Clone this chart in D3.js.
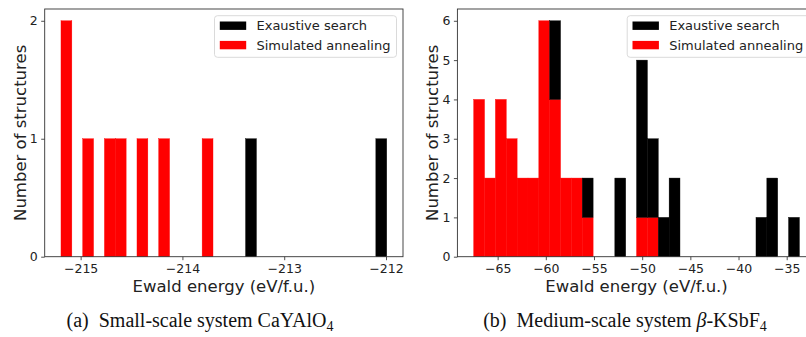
<!DOCTYPE html>
<html>
<head>
<meta charset="utf-8">
<script src="https://cdn.jsdelivr.net/npm/d3@7"></script>
<style>
  body { margin: 0; background: #fff; overflow: hidden; }
  svg { display: block; }
  .tick text { font-family: "DejaVu Sans", sans-serif; font-size: 12.5px; fill: #222; }
  .axis-title { font-family: "DejaVu Sans", sans-serif; font-size: 16.5px; fill: #222; }
  .legend text { font-family: "DejaVu Sans", sans-serif; font-size: 13px; fill: #222; }
  .caption { font-family: "Liberation Serif", "Times New Roman", serif; font-size: 20px; fill: #111; }
</style>
</head>
<body>
<div id="chart"></div>
<script>
// legend entries
const seriesLabels = ['Exaustive search', 'Simulated annealing'];
const seriesColors = ['#000000', '#ff0000'];

// (a) CaYAlO4: 30 bins between the lowest and highest energy
const smallBinRange = [-215.193, -211.993];
const smallAnnealing  = [2,0,1,0,1,1,0,1,0,1, 0,0,0,1,0,0,0,0,0,0, 0,0,0,0,0,0,0,0,0,0];
const smallExhaustive = [0,0,0,0,0,0,0,0,0,0, 0,0,0,0,0,0,0,1,0,0, 0,0,0,0,0,0,0,0,0,1];
const smallXTicks = [-215, -214, -213, -212];
const smallYTicks = [0, 1, 2];

// (b) beta-KSbF4
const mediumBinRange = [-67.487, -33.68];
const mediumAnnealing  = [4,2,4,3,2,2,6,4,2,2, 1,0,0,0,0,1,1,0,0,0, 0,0,0,0,0,0,0,0,0,0];
const mediumExhaustive = [0,0,0,0,0,0,0,2,0,0, 1,0,0,2,0,4,2,1,2,0, 0,0,0,0,0,0,1,2,0,1];
const mediumXTicks = [-65, -60, -55, -50, -45, -40, -35];
const mediumYTicks = [0, 1, 2, 3, 4, 5, 6];

class StackedHist {
    constructor(_config, _data) {
        this.config = {
            parent: _config.parent,
            left: _config.left,
            width: _config.width || 358.3,
            top: 9,
            height: 247.7,
            yMax: _config.yMax,
            xTicks: _config.xTicks,
            yTicks: _config.yTicks
        }
        this.data = _data;
        this.initVis();
    }

    initVis() {
        let vis = this;
        const c = vis.config;

        vis.chart = c.parent.append('g')
            .attr('transform', `translate(${c.left},${c.top})`);

        // matplotlib-style 5% padding around the bin range
        const [lo, hi] = vis.data.range;
        const pad = (hi - lo) * 0.05;
        vis.xScale = d3.scaleLinear().domain([lo - pad, hi + pad]).range([0, c.width]);
        vis.yScale = d3.scaleLinear().domain([0, c.yMax]).range([c.height, 0]);

        const n = vis.data.annealing.length;
        const step = (hi - lo) / n;
        vis.bins = d3.range(n).map(i => ({
            x0: lo + i * step,
            x1: lo + (i + 1) * step,
            sa: vis.data.annealing[i],
            es: vis.data.exhaustive[i]
        }));

        vis.renderVis();
    }

    renderVis() {
        let vis = this;
        const c = vis.config;

        // red at the bottom, black stacked on top
        // (a thin stroke in the fill colour hides seams between neighbouring bins)
        vis.chart.selectAll('.bar-sa')
            .data(vis.bins.filter(d => d.sa > 0))
            .join('rect')
            .attr('class', 'bar-sa')
            .attr('x', d => vis.xScale(d.x0))
            .attr('width', d => vis.xScale(d.x1) - vis.xScale(d.x0))
            .attr('y', d => vis.yScale(d.sa))
            .attr('height', d => vis.yScale(0) - vis.yScale(d.sa))
            .attr('fill', seriesColors[1])
            .attr('stroke', seriesColors[1])
            .attr('stroke-width', 0.4);

        vis.chart.selectAll('.bar-es')
            .data(vis.bins.filter(d => d.es > 0))
            .join('rect')
            .attr('class', 'bar-es')
            .attr('x', d => vis.xScale(d.x0))
            .attr('width', d => vis.xScale(d.x1) - vis.xScale(d.x0))
            .attr('y', d => vis.yScale(d.sa + d.es))
            .attr('height', d => vis.yScale(d.sa) - vis.yScale(d.sa + d.es))
            .attr('fill', seriesColors[0])
            .attr('stroke', seriesColors[0])
            .attr('stroke-width', 0.4);

        // axes
        const xAxis = d3.axisBottom(vis.xScale).tickValues(c.xTicks).tickFormat(d3.format('d'))
            .tickSize(3.5).tickPadding(3.5).tickSizeOuter(0);
        const yAxis = d3.axisLeft(vis.yScale).tickValues(c.yTicks).tickFormat(d3.format('d'))
            .tickSize(3.5).tickPadding(3.5).tickSizeOuter(0);

        const xg = vis.chart.append('g').attr('transform', `translate(0,${c.height})`).call(xAxis);
        const yg = vis.chart.append('g').call(yAxis);
        [xg, yg].forEach(g => {
            g.select('.domain').remove();
            g.selectAll('.tick line').attr('stroke', '#222').attr('stroke-width', 0.8);
        });

        // frame
        vis.chart.append('rect')
            .attr('width', c.width)
            .attr('height', c.height)
            .attr('fill', 'none')
            .attr('stroke', '#333')
            .attr('stroke-width', 0.9);

        // axis titles
        vis.chart.append('text')
            .attr('class', 'axis-title')
            .attr('x', c.width / 2)
            .attr('y', c.height + 35.5)
            .attr('text-anchor', 'middle')
            .text('Ewald energy (eV/f.u.)');

        vis.chart.append('text')
            .attr('class', 'axis-title')
            .attr('transform', `translate(-19,${c.height / 2}) rotate(-90)`)
            .attr('text-anchor', 'middle')
            .text('Number of structures');

        // legend
        const lg = vis.chart.append('g')
            .attr('class', 'legend')
            .attr('transform', `translate(${c.width - 188.5},6.7)`);
        lg.append('rect')
            .attr('width', 182)
            .attr('height', 41.6)
            .attr('rx', 3)
            .attr('fill', 'rgba(255,255,255,0.85)')
            .attr('stroke', '#d6d6d6')
            .attr('stroke-width', 0.9);
        seriesLabels.forEach((label, i) => {
            const cy = 10 + i * 19.4;
            lg.append('rect')
                .attr('x', 5.3).attr('y', cy - 4.2)
                .attr('width', 26.4).attr('height', 8.4)
                .attr('fill', seriesColors[i]);
            lg.append('text')
                .attr('x', 42).attr('y', cy + 4.6)
                .text(label);
        });
    }
}

const svg = d3.select('#chart').append('svg')
    .attr('width', 806)
    .attr('height', 337);

new StackedHist({ parent: svg, left: 44.7, yMax: 2.1, xTicks: smallXTicks, yTicks: smallYTicks },
    { range: smallBinRange, annealing: smallAnnealing, exhaustive: smallExhaustive });

new StackedHist({ parent: svg, left: 457.4, yMax: 6.3, xTicks: mediumXTicks, yTicks: mediumYTicks },
    { range: mediumBinRange, annealing: mediumAnnealing, exhaustive: mediumExhaustive });

// sub-figure captions
const capA = svg.append('text').attr('class', 'caption')
    .attr('x', 200).attr('y', 327).attr('text-anchor', 'middle');
capA.append('tspan').text('(a)\u2002Small-scale system CaYAlO');
capA.append('tspan').attr('dy', 4).attr('font-size', '14px').text('4');

const capB = svg.append('text').attr('class', 'caption')
    .attr('x', 625).attr('y', 327).attr('text-anchor', 'middle');
capB.append('tspan').text('(b)\u2002Medium-scale system ');
capB.append('tspan').attr('font-style', 'italic').text('\u03b2');
capB.append('tspan').text('-KSbF');
capB.append('tspan').attr('dy', 4).attr('font-size', '14px').text('4');
</script>
</body>
</html>
